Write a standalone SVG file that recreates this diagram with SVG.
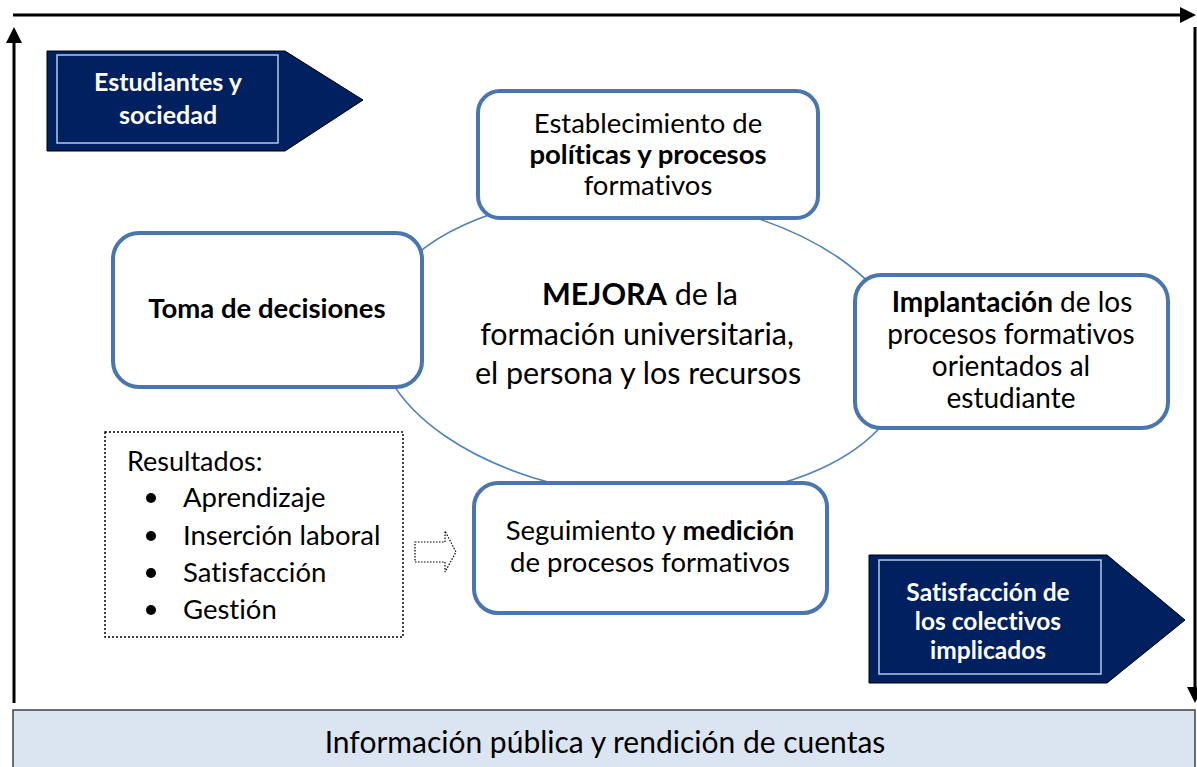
<svg xmlns="http://www.w3.org/2000/svg" width="1197" height="767" viewBox="0 0 1197 767">
<style>
.t{font-family:Lato,"Open Sans","Liberation Sans",sans-serif;fill:#000;text-anchor:middle;font-variant-ligatures:none;font-feature-settings:"liga" 0,"dlig" 0}
.s{text-anchor:start}
.b{font-weight:bold}
.w{fill:#fff;font-weight:bold}
.box{fill:#fff;stroke:#4a75ad;stroke-width:4}
.pent{fill:#002060;stroke:#000;stroke-width:1}
.inner{fill:none;stroke:#b4c7e7;stroke-width:1.5}
.axis{stroke:#000;stroke-width:3;fill:none}
</style>
<defs>
<marker id="ah" viewBox="0 0 16 16" refX="6" refY="8" markerWidth="16" markerHeight="16" markerUnits="userSpaceOnUse" orient="auto">
<path d="M0,0 L16,8 L0,16 z" fill="#000"/>
</marker>
</defs>
<g id="connectors">
<line class="axis" x1="13" y1="15" x2="1186" y2="15" marker-end="url(#ah)"/>
<line class="axis" x1="14" y1="703" x2="14" y2="37" marker-end="url(#ah)"/>
<line class="axis" x1="1195" y1="27" x2="1195" y2="693" marker-end="url(#ah)"/>
<ellipse cx="642" cy="347" rx="266" ry="150" transform="rotate(5 642 347)" fill="none" stroke="#4f81bd" stroke-width="1.6"/>
<path d="M415,542 L445,542 L445,531 L456,552 L445,572 L445,562 L415,562 Z" fill="none" stroke="#000" stroke-width="1.2" stroke-dasharray="1.5,1.5"/>
</g>
<g id="estudiantes">
<path class="pent" d="M47,51 L285,51 L363,100 L285,151 L47,151 Z"/>
<rect class="inner" x="57" y="55" width="221" height="88"/>
<text class="t w" font-size="25" x="168" y="91">Estudiantes y</text>
<text class="t w" font-size="25" x="168" y="124">sociedad</text>
</g>
<g id="establecimiento">
<rect class="box" x="478" y="91" width="340" height="127" rx="22"/>
<text class="t" font-size="27.5" x="648" y="133">Establecimiento de</text>
<text class="t b" font-size="27.5" x="648" y="164">políticas y procesos</text>
<text class="t" font-size="27.5" x="648" y="195">formativos</text>
</g>
<g id="toma">
<rect class="box" x="113" y="233" width="309" height="154" rx="26"/>
<text class="t b" font-size="27.5" x="267" y="318">Toma de decisiones</text>
</g>
<g id="mejora">
<text class="t" font-size="30.5" x="640" y="305"><tspan class="b">MEJORA</tspan> de la</text>
<text class="t" font-size="30.5" x="637" y="345">formación universitaria,</text>
<text class="t" font-size="30.5" x="638" y="384">el persona y los recursos</text>
</g>
<g id="implantacion">
<rect class="box" x="855" y="275" width="313" height="153" rx="26"/>
<text class="t" font-size="28" x="1012" y="312"><tspan class="b">Implantación</tspan> de los</text>
<text class="t" font-size="28" x="1011" y="344">procesos formativos</text>
<text class="t" font-size="28" x="1011" y="376">orientados al</text>
<text class="t" font-size="28" x="1011" y="408">estudiante</text>
</g>
<g id="resultados">
<rect x="105" y="432" width="298" height="205" fill="none" stroke="#000" stroke-width="1.5" stroke-dasharray="2,2"/>
<text class="t s" font-size="27" x="127" y="471">Resultados:</text>
<circle cx="151" cy="498" r="5"/>
<circle cx="151" cy="536" r="5"/>
<circle cx="151" cy="573" r="5"/>
<circle cx="151" cy="610" r="5"/>
<text class="t s" font-size="27.5" x="183" y="507">Aprendizaje</text>
<text class="t s" font-size="27.5" x="183" y="545">Inserción laboral</text>
<text class="t s" font-size="27.5" x="183" y="582">Satisfacción</text>
<text class="t s" font-size="27.5" x="183" y="619">Gestión</text>
</g>
<g id="seguimiento">
<rect class="box" x="474" y="483" width="353" height="130" rx="24"/>
<text class="t" font-size="27.5" x="650" y="540">Seguimiento y <tspan class="b">medición</tspan></text>
<text class="t" font-size="27.5" x="650" y="572">de procesos formativos</text>
</g>
<g id="satisfaccion">
<path class="pent" d="M869,555 L1107,555 L1185,620 L1107,683 L869,683 Z"/>
<rect class="inner" x="879" y="560" width="222" height="114"/>
<text class="t w" font-size="24.5" x="988" y="601">Satisfacción de</text>
<text class="t w" font-size="24.5" x="988" y="630">los colectivos</text>
<text class="t w" font-size="24.5" x="988" y="659">implicados</text>
</g>
<g id="informacion">
<rect x="13" y="710" width="1182" height="60" fill="#dbe4f1" stroke="#404040" stroke-width="1.5"/>
<text class="t" font-size="30" x="605" y="753">Información pública y rendición de cuentas</text>
</g>
</svg>
